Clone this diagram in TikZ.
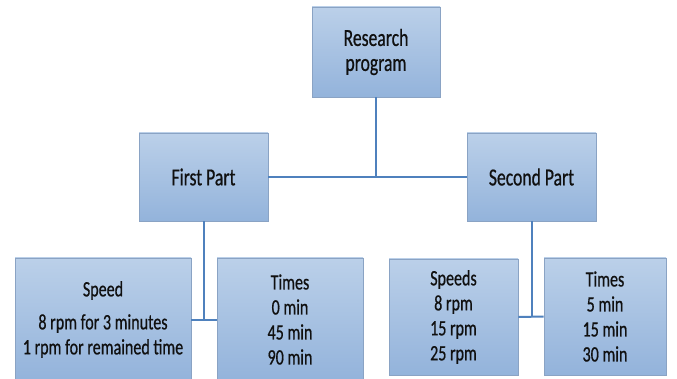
\documentclass[tikz,border=0pt]{standalone}
\usepackage{fontspec}
\setmainfont{Carlito}
\newfontfamily\topfont[FakeStretch=0.72,FakeBold=0.6]{Carlito}
\newfontfamily\botfont[FakeStretch=0.73,FakeBold=0.6]{Carlito}
\definecolor{boxtop}{HTML}{BBD0E9}
\definecolor{boxbot}{HTML}{93B3DB}
\definecolor{boxedge}{HTML}{8AA3C4}
\definecolor{linkc}{HTML}{4F81BD}
\definecolor{txt}{HTML}{101010}
\begin{document}
\begin{tikzpicture}[x=1pt,y=-1pt,
  box/.style={draw=boxedge, line width=0.9pt, top color=boxtop, bottom color=boxbot,
    inner sep=0pt, align=center, text=txt},
  upper/.style={box, font={\topfont\fontsize{24.5}{25}\selectfont}},
  lower/.style={box, font={\botfont\fontsize{22}{25}\selectfont}},
  link/.style={draw=linkc, line width=2pt}]
\clip (0,0) rectangle (677,379);
\fill[white] (0,0) rectangle (677,379);
\node[upper, minimum width=128pt, minimum height=90pt] (rp) at (376,52) {Research\\program};
\node[upper, minimum width=129pt, minimum height=88pt] (fp) at (203.5,177) {First Part};
\node[upper, minimum width=129pt, minimum height=88pt] (sp) at (531.5,177) {Second Part};
\node[lower, minimum width=176pt, minimum height=123pt] (spd) at (103,319.5) {Speed\\[8pt]8 rpm for 3 minutes\\1 rpm for remained time};
\node[lower, minimum width=146pt, minimum height=123pt] (tl) at (290,319.5) {Times\\0 min\\45 min\\90 min};
\node[lower, minimum width=129pt, minimum height=116pt] (sr) at (453.5,317) {Speeds\\8 rpm\\15 rpm\\25 rpm};
\node[lower, minimum width=122pt, minimum height=117pt] (tr) at (605,316.5) {Times\\5 min\\15 min\\30 min};
\draw[link] (rp.south) -- (rp.south |- fp.east);
\draw[link] (fp.east) -- (sp.west);
\draw[link] (fp.south) -- (fp.south |- spd.east);
\draw[link] (spd.east) -- (tl.west);
\draw[link] (sp.south) -- (sp.south |- sr.east);
\draw[link] (sr.east) -- (tr.west);
\end{tikzpicture}
\end{document}
